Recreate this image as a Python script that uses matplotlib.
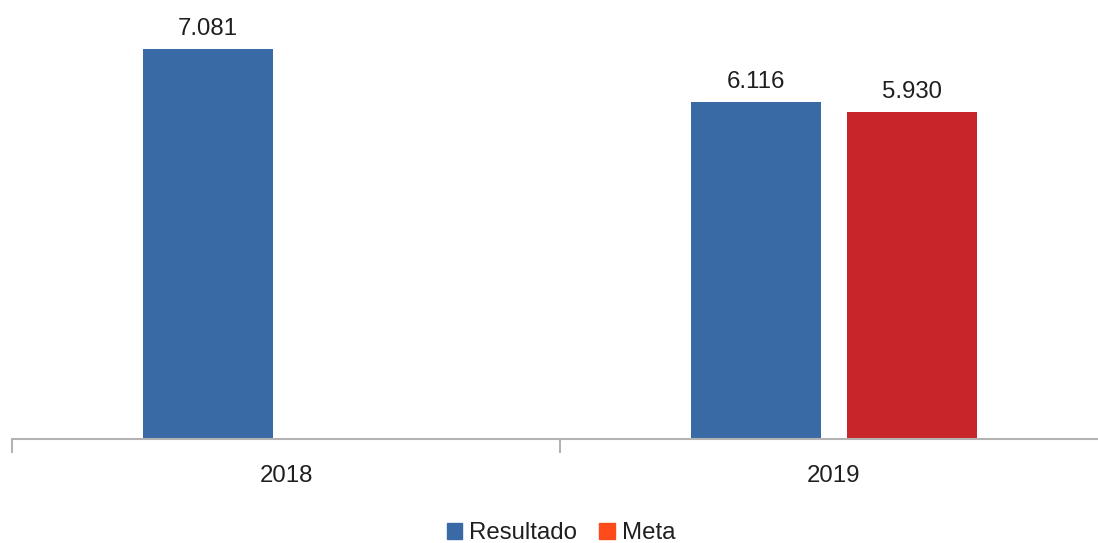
import matplotlib
matplotlib.use("Agg")
import matplotlib.pyplot as plt
from matplotlib.patches import Patch
import numpy as np

categories = ["2018", "2019"]
resultado = [7081, 6116]
meta = [None, 5930]
series_names = ["Resultado", "Meta"]

plt.rcParams['font.family'] = ['Liberation Sans', 'DejaVu Sans']

W, H = 1098, 543
fig = plt.figure(figsize=(W / 100, H / 100), dpi=100)
# axes spans x 12..1108 px, y 0..439 px (from top)
ax = fig.add_axes([12 / W, (H - 439) / H, 1096 / W, 439 / H])

blue = "#3a6aa5"
red = "#c8252a"
legend_red = "#ff4a1c"
text_color = "#1f1f1f"

x = np.arange(len(categories))
width = 0.237
off = 0.1425

def fmt(v):
    return f"{v:,}".replace(",", ".")

for i, v in enumerate(resultado):
    if v is not None:
        ax.bar(x[i] - off, v, width, color=blue)
        ax.annotate(fmt(v), (x[i] - off, v), xytext=(0, 6.5), textcoords="offset points",
                    ha="center", va="bottom", fontsize=17.3, color=text_color)
for i, v in enumerate(meta):
    if v is not None:
        ax.bar(x[i] + off, v, width, color=red)
        ax.annotate(fmt(v), (x[i] + off, v), xytext=(0, 6.5), textcoords="offset points",
                    ha="center", va="bottom", fontsize=17.3, color=text_color)

ax.set_xlim(-0.5, len(categories) - 0.5)
ax.set_ylim(0, 7970)

for s in ["top", "right", "left"]:
    ax.spines[s].set_visible(False)
ax.spines["bottom"].set_color("#b3b3b3")
ax.spines["bottom"].set_linewidth(1.5)
ax.set_yticks([])

ax.set_xticks(x)
ax.set_xticklabels(categories, fontsize=17.3, color=text_color)
ax.tick_params(axis="x", which="major", length=0, pad=19)
ax.set_xticks(np.arange(-0.5, len(categories)), minor=True)
ax.tick_params(axis="x", which="minor", length=10, width=1.5, color="#b3b3b3")

handles = [Patch(color=blue, label=series_names[0]), Patch(color=legend_red, label=series_names[1])]
fig.legend(handles=handles, loc="center", bbox_to_anchor=(561 / W, (H - 533) / H),
           ncol=2, frameon=False, fontsize=17.3, handlelength=0.65, handleheight=0.65,
           handletextpad=0.3, columnspacing=0.9, labelcolor=text_color, borderpad=0.1)

fig.savefig("out.png", dpi=100)
